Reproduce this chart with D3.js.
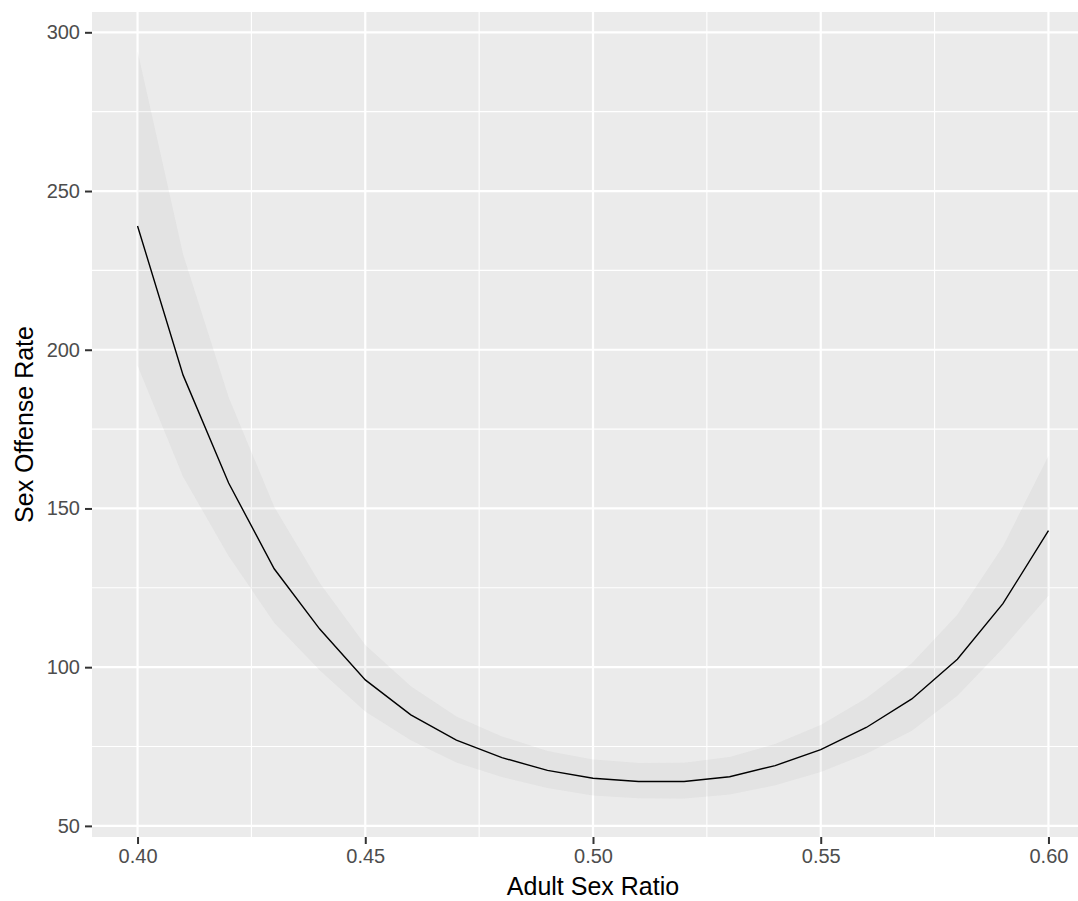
<!DOCTYPE html>
<html>
<head>
<meta charset="utf-8">
<script src="https://cdn.jsdelivr.net/npm/d3@7"></script>
<style>
  body { margin: 0; background: #fff; }
  svg { display: block; }
</style>
</head>
<body>
<svg id="chart" width="1078" height="901"></svg>
<script>
// fitted curve, one point per 0.01
const ratio = [0.40, 0.41, 0.42, 0.43, 0.44, 0.45, 0.46, 0.47, 0.48, 0.49, 0.50,
  0.51, 0.52, 0.53, 0.54, 0.55, 0.56, 0.57, 0.58, 0.59, 0.60];
const rate = [239, 192, 158, 131, 112, 96, 85, 77, 71.5, 67.5, 65,
  64, 64, 65.5, 69, 74, 81, 90, 102.5, 120, 143];
const rateLower = [195, 160, 135, 114, 99, 86, 77, 70, 65.4, 61.9, 59.6,
  58.7, 58.6, 59.9, 62.8, 67, 72.7, 80, 91, 106, 122.5];
const rateUpper = [294, 230, 185, 150.5, 126.5, 107, 94, 84.5, 78.2, 73.6, 70.9,
  69.8, 69.9, 71.7, 75.8, 81.8, 90.2, 101.2, 116.5, 138, 166.5];

const xTicks = [0.40, 0.45, 0.50, 0.55, 0.60];
const xMinor = [0.425, 0.475, 0.525, 0.575];
const yTicks = [50, 100, 150, 200, 250, 300];
const yMinor = [75, 125, 175, 225, 275];

const data = ratio.map((r, i) => ({ r, v: rate[i], lo: rateLower[i], hi: rateUpper[i] }));

const panel = { left: 92, top: 12, right: 1094, bottom: 837 };
const font = "'Liberation Sans', Arial, sans-serif";

const x = d3.scaleLinear().domain([0.39, 0.61]).range([panel.left, panel.right]);
const y = d3.scaleLinear().domain([46.5, 306.4]).range([panel.bottom, panel.top]);

const svg = d3.select("#chart");

svg.append("rect")
  .attr("x", panel.left)
  .attr("y", panel.top)
  .attr("width", panel.right - panel.left)
  .attr("height", panel.bottom - panel.top)
  .attr("fill", "#ebebeb");

const grid = svg.append("g");

grid.selectAll(".ymin").data(yMinor).enter().append("line")
  .attr("x1", panel.left).attr("x2", panel.right)
  .attr("y1", d => y(d)).attr("y2", d => y(d))
  .attr("stroke", "#fff").attr("stroke-width", 1.1);

grid.selectAll(".xmin").data(xMinor).enter().append("line")
  .attr("y1", panel.top).attr("y2", panel.bottom)
  .attr("x1", d => x(d)).attr("x2", d => x(d))
  .attr("stroke", "#fff").attr("stroke-width", 1.1);

grid.selectAll(".ymaj").data(yTicks).enter().append("line")
  .attr("x1", panel.left).attr("x2", panel.right)
  .attr("y1", d => y(d)).attr("y2", d => y(d))
  .attr("stroke", "#fff").attr("stroke-width", 2.2);

grid.selectAll(".xmaj").data(xTicks).enter().append("line")
  .attr("y1", panel.top).attr("y2", panel.bottom)
  .attr("x1", d => x(d)).attr("x2", d => x(d))
  .attr("stroke", "#fff").attr("stroke-width", 2.2);

// confidence band
svg.append("path")
  .datum(data)
  .attr("fill", "#999999")
  .attr("fill-opacity", 0.1)
  .attr("d", d3.area().x(d => x(d.r)).y0(d => y(d.lo)).y1(d => y(d.hi)));

svg.append("path")
  .datum(data)
  .attr("fill", "none")
  .attr("stroke", "#000")
  .attr("stroke-width", 1.4)
  .attr("d", d3.line().x(d => x(d.r)).y(d => y(d.v)));

// axes
const xAxis = svg.append("g")
  .attr("transform", `translate(0,${panel.bottom})`)
  .call(d3.axisBottom(x).tickValues(xTicks).tickFormat(d3.format(".2f")).tickSize(7).tickPadding(5));

const yAxis = svg.append("g")
  .attr("transform", `translate(${panel.left},0)`)
  .call(d3.axisLeft(y).tickValues(yTicks).tickFormat(d3.format("d")).tickSize(7).tickPadding(5));

[xAxis, yAxis].forEach(ax => {
  ax.select(".domain").remove();
  ax.selectAll(".tick line").attr("stroke", "#333").attr("stroke-width", 2);
  ax.selectAll(".tick text")
    .attr("fill", "#4d4d4d")
    .style("font-family", font)
    .style("font-size", "20px");
});

svg.append("text")
  .text("Adult Sex Ratio")
  .attr("x", (panel.left + panel.right) / 2)
  .attr("y", 895)
  .attr("text-anchor", "middle")
  .attr("fill", "#000")
  .style("font-family", font)
  .style("font-size", "25px");

svg.append("text")
  .text("Sex Offense Rate")
  .attr("transform", `translate(33,${(panel.top + panel.bottom) / 2}) rotate(-90)`)
  .attr("text-anchor", "middle")
  .attr("fill", "#000")
  .style("font-family", font)
  .style("font-size", "25px");
</script>
</body>
</html>
